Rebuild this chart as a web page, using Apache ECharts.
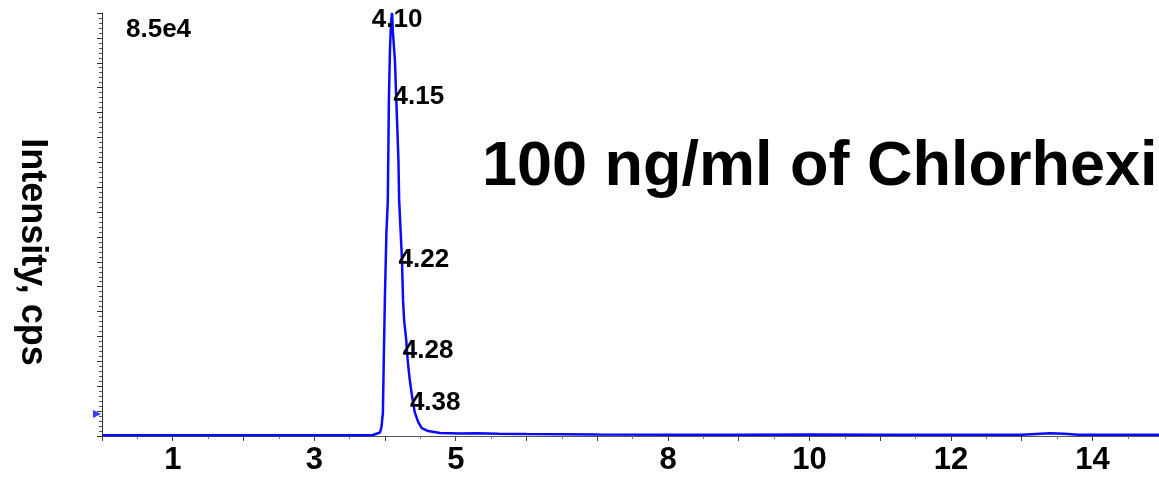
<!DOCTYPE html>
<html>
<head>
<meta charset="utf-8">
<script src="https://cdn.jsdelivr.net/npm/echarts@6/dist/echarts.min.js"></script>
<style>
  html, body { margin: 0; padding: 0; background: #ffffff; }
  #chart { width: 1159px; height: 477px; }
</style>
</head>
<body>
<div id="chart"></div>
<script>
// Retention time (min)
const times = [0.00, 1.00, 2.00, 3.00, 3.50, 3.83, 3.93, 3.95, 3.97, 3.985, 4.00, 4.02, 4.04, 4.055, 4.07, 4.085, 4.10, 4.11, 4.125, 4.14, 4.155, 4.175, 4.19, 4.20, 4.22, 4.24, 4.255, 4.27, 4.30, 4.32, 4.35, 4.38, 4.42, 4.47, 4.52, 4.61, 4.78, 5.06, 5.30, 5.60, 6.00, 6.50, 7.00, 8.00, 9.00, 10.00, 11.00, 12.00, 13.00, 13.20, 13.40, 13.60, 13.80, 14.00, 14.94];
// Intensity (cps)
const intensities = [150, 150, 150, 150, 150, 200, 700, 1800, 4600, 17300, 28700, 40800, 47400, 67500, 77500, 83000, 85000, 81600, 78500, 75500, 69500, 61500, 55400, 47400, 41400, 35400, 27300, 23300, 19300, 15300, 11300, 8200, 4800, 2800, 1600, 1000, 600, 500, 550, 450, 400, 350, 300, 250, 250, 300, 250, 250, 250, 400, 550, 450, 250, 250, 250];
// X tick labels shown
const xTickLabels = [1, 3, 5, 8, 10, 12, 14];
// Peak annotation labels (time text) and level where each label sits
const peakLabelTimes = [4.10, 4.15, 4.22, 4.28, 4.38];
const peakLabelLevels = [83600, 68100, 35400, 17100, 6600];
const scaleMaxText = '8.5e4';
const titleText = '100 ng/ml of Chlorhexi';
const yAxisName = 'Intensity, cps';
const thresholdLevel = 4400;

const FONT = 'Liberation Sans, Arial, sans-serif';

const lineData = times.map((t, i) => [t, intensities[i]]);
const labelData = peakLabelTimes.map((t, i) => ({
  value: [t, peakLabelLevels[i]],
  label: i === 0
    ? { position: 'inside', offset: [5, 0], align: 'center' }
    : { position: 'right', distance: 0, offset: [-2, 0] }
}));

const chart = echarts.init(document.getElementById('chart'), null, { renderer: 'canvas' });
chart.setOption({
  animation: false,
  backgroundColor: '#ffffff',
  title: [
    { text: scaleMaxText, left: 121, top: 12,
      textStyle: { fontFamily: FONT, fontWeight: 'bold', fontSize: 26, color: '#000' } },
    { text: titleText, left: 477, top: 131,
      textStyle: { fontFamily: FONT, fontWeight: 'bold', fontSize: 63, color: '#000' } }
  ],
  graphic: [
    {
      type: 'text',
      x: 32, y: 252,
      rotation: -Math.PI / 2,
      style: {
        text: yAxisName,
        fontFamily: FONT, fontWeight: 'bold', fontSize: 36, fill: '#000',
        align: 'center', verticalAlign: 'middle'
      }
    }
  ],
  grid: { left: 102, right: 0, top: 13, bottom: 41 },
  xAxis: {
    type: 'value',
    min: 0,
    max: 14.94,
    interval: 1,
    splitLine: { show: false },
    axisLine: { show: true, lineStyle: { color: '#555', width: 1 } },
    axisTick: { show: true, length: 5, lineStyle: { color: '#444' } },
    minorTick: { show: true, splitNumber: 2, length: 3, lineStyle: { color: '#777' } },
    axisLabel: {
      margin: 9,
      fontFamily: FONT, fontWeight: 'bold', fontSize: 31, color: '#000',
      showMaxLabel: false,
      formatter: v => (xTickLabels.indexOf(Math.round(v * 100) / 100) >= 0 ? String(v) : '')
    }
  },
  yAxis: {
    type: 'value',
    min: 0,
    max: 85000,
    interval: 5000,
    splitLine: { show: false },
    axisLine: { show: true, lineStyle: { color: '#333', width: 1 } },
    axisTick: { show: true, length: 5, lineStyle: { color: '#333' } },
    minorTick: { show: true, splitNumber: 5, length: 3, lineStyle: { color: '#555' } },
    axisLabel: { show: false }
  },
  series: [
    {
      type: 'line',
      data: lineData,
      showSymbol: false,
      symbol: 'none',
      lineStyle: { color: '#0a0aff', width: 2.5 },
      z: 3
    },
    {
      type: 'scatter',
      data: labelData,
      symbolSize: 0,
      itemStyle: { color: '#000', opacity: 1 },
      label: {
        show: true,
        formatter: p => p.value[0].toFixed(2),
        fontFamily: FONT, fontWeight: 'bold', fontSize: 26, color: '#000', opacity: 1
      },
      emphasis: { disabled: true },
      z: 4
    },
    {
      type: 'scatter',
      data: [[0, thresholdLevel]],
      symbol: 'triangle',
      symbolRotate: -90,
      symbolSize: [8, 8],
      symbolOffset: [-5, 0],
      clip: false,
      itemStyle: { color: '#0a0aff' },
      emphasis: { disabled: true },
      z: 5
    }
  ]
});
</script>
</body>
</html>
